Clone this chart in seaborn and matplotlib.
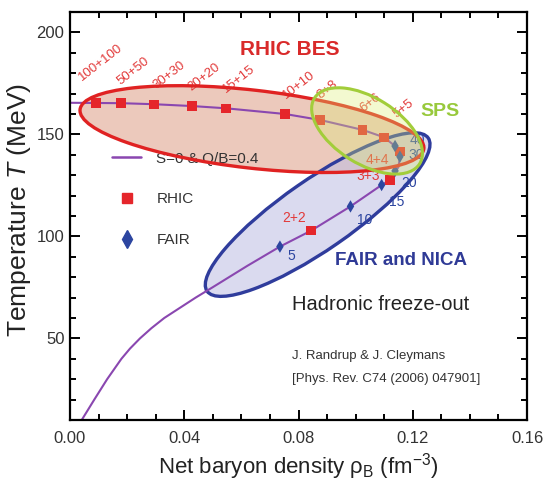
import matplotlib
matplotlib.use("Agg")
import matplotlib.pyplot as plt
import seaborn as sns
import pandas as pd
from matplotlib.patches import Ellipse
from matplotlib.lines import Line2D
from matplotlib.transforms import Affine2D
from matplotlib.ticker import MultipleLocator, FormatStrFormatter

# freeze-out curve (S=0 & Q/B=0.4)
curve_rho = [0.0, 0.0091, 0.0179, 0.0294, 0.0427, 0.0546, 0.0753, 0.0875, 0.1025,
             0.1099, 0.1138, 0.1156, 0.1150, 0.1120, 0.1091, 0.0982, 0.0844, 0.0735,
             0.0620, 0.0501, 0.0440, 0.0385, 0.0330, 0.0285, 0.0245, 0.0210,
             0.0180, 0.0130, 0.0085, 0.0041]
curve_T = [165.5, 165.4, 165.3, 164.8, 163.9, 162.8, 160.0, 157.1, 152.2,
           148.6, 144.3, 140.0, 134.0, 127.6, 125.2, 114.7, 102.8, 95.0,
           85.5, 75.2, 70.0, 65.0, 60.0, 55.0, 50.0, 45.0,
           40.0, 30.0, 20.0, 10.0]

# RHIC beam energy scan points
rhic_labels = ["100+100", "50+50", "30+30", "20+20", "15+15", "10+10",
               "8+8", "6+6", "5+5", "4+4", "3+3", "2+2"]
rhic_rho = [0.0091, 0.0179, 0.0294, 0.0427, 0.0546, 0.0753,
            0.0875, 0.1025, 0.1099, 0.1155, 0.1120, 0.0844]
rhic_T = [165.4, 165.4, 164.8, 163.9, 162.8, 160.0,
          157.1, 152.2, 148.6, 141.5, 127.6, 102.8]

# FAIR points
fair_labels = ["5", "10", "15", "20", "30", "40"]
fair_rho = [0.0735, 0.0982, 0.1091, 0.1138, 0.1155, 0.1138]
fair_T = [95.0, 114.7, 125.2, 132.1, 139.1, 144.3]

PURPLE = "#8a47b0"
RED = "#e5262b"
BLUE = "#2c45a0"

sns.set_style("ticks")
plt.rcParams["font.family"] = ["Liberation Sans", "DejaVu Sans"]
plt.rcParams["mathtext.fontset"] = "custom"
plt.rcParams["mathtext.rm"] = "Liberation Sans"
plt.rcParams["mathtext.it"] = "Liberation Sans:italic"

fig = plt.figure(figsize=(5.45, 4.88), dpi=100)
ax = fig.add_axes([70 / 545, 68 / 488, 457 / 545, 408 / 488])
ax.set_xlim(0, 0.16)
ax.set_ylim(10, 210)

# ellipses are drawn in pixel units so they keep their shape
px = Affine2D().scale(0.16 / 457, 200 / 408) + ax.transData


def blob(x, y, w, h, angle, **kw):
    e = Ellipse((x * 457 / 0.16, y * 408 / 200), w, h, angle=angle, transform=px, **kw)
    ax.add_patch(e)


# RHIC BES region (fill under, edge over the legend)
blob(0.0637, 152.6, 346, 78, -6.5, fc="#ecc9bc", ec="none", zorder=1)
blob(0.0637, 152.6, 346, 78, -6.5, fc="none", ec="#e02222", lw=2.4, zorder=6)
# FAIR and NICA region
blob(0.0867, 110.7, 269, 70, 34.7, fc=(0.74, 0.74, 0.89, 0.55), ec="#2f3c9c", lw=2.4, zorder=1.5)
# SPS region
blob(0.1040, 151.7, 124, 66, -32, fc=(0.86, 0.93, 0.45, 0.33), ec="#a2cd3a", lw=2.2, zorder=7)

curve = pd.DataFrame({"rho": curve_rho, "T": curve_T})
sns.lineplot(data=curve, x="rho", y="T", sort=False, estimator=None,
             color=PURPLE, lw=1.5, ax=ax, zorder=2)

sns.scatterplot(x=rhic_rho, y=rhic_T, marker="s", s=45, color=RED,
                edgecolor="none", ax=ax, zorder=3)
sns.scatterplot(x=fair_rho, y=fair_T, marker="d", s=40, color=BLUE,
                edgecolor="none", ax=ax, zorder=3)

# point labels (offsets in points)
rhic_off = [(-9, 14), (1, 11), (3, 9), (1, 9), (1, 9), (2, 9),
            (2, 13), (2, 11), (10, 12)]
for lab, x, y, off in zip(rhic_labels[:9], rhic_rho[:9], rhic_T[:9], rhic_off):
    ax.annotate(lab, (x, y), xytext=off, textcoords="offset points",
                rotation=38, rotation_mode="anchor", ha="left", va="bottom",
                fontsize=9.5, color="#e23a3a", zorder=4)
flat_off = [(-16, -6), (-16, 3), (-12, 9)]
for lab, x, y, off in zip(rhic_labels[9:], rhic_rho[9:], rhic_T[9:], flat_off):
    ax.annotate(lab, (x, y), xytext=off, textcoords="offset points",
                ha="center", va="center", fontsize=10, color="#e23a3a", zorder=4)
fair_off = [(8, -7), (10, -10), (11, -12), (10, -9), (12, 1), (16, 4)]
for lab, x, y, off in zip(fair_labels, fair_rho, fair_T, fair_off):
    ax.annotate(lab, (x, y), xytext=off, textcoords="offset points",
                ha="center", va="center", fontsize=10, color=BLUE, zorder=4)

# region names and notes
ax.text(0.372, 0.907, "RHIC BES", transform=ax.transAxes, fontsize=15,
        fontweight="bold", color="#d92a2a", va="center")
ax.text(0.766, 0.757, "SPS", transform=ax.transAxes, fontsize=14,
        fontweight="bold", color="#98c93c", va="center")
ax.text(0.580, 0.390, "FAIR and NICA", transform=ax.transAxes, fontsize=13.5,
        fontweight="bold", color="#2f3a96", va="center")
ax.text(0.486, 0.282, "Hadronic freeze-out", transform=ax.transAxes,
        fontsize=14.5, color="#222222", va="center")
ax.text(0.486, 0.157, "J. Randrup & J. Cleymans", transform=ax.transAxes,
        fontsize=9.5, color="#333333", va="center")
ax.text(0.486, 0.100, "[Phys. Rev. C74 (2006) 047901]", transform=ax.transAxes,
        fontsize=9.5, color="#333333", va="center")

# legend
handles = [Line2D([], [], color=PURPLE, lw=1.8),
           Line2D([], [], ls="none", marker="s", ms=7, color=RED),
           Line2D([], [], ls="none", marker="d", ms=9, color=BLUE)]
leg = ax.legend(handles, ["S=0 & Q/B=0.4", "RHIC", "FAIR"], loc="upper left",
                bbox_to_anchor=(0.092, 0.658), frameon=False, fontsize=11,
                handlelength=1.9, handletextpad=1.0, labelspacing=1.75,
                borderpad=0, borderaxespad=0)
leg.set_zorder(5)
for t in leg.get_texts():
    t.set_color("#333333")

# axes styling
ax.xaxis.set_major_locator(MultipleLocator(0.04))
ax.xaxis.set_minor_locator(MultipleLocator(0.01))
ax.xaxis.set_major_formatter(FormatStrFormatter("%.2f"))
ax.yaxis.set_major_locator(MultipleLocator(50))
ax.yaxis.set_minor_locator(MultipleLocator(10))
ax.tick_params(which="both", direction="in", top=True, right=True,
               width=1.4, colors="black", labelsize=12, labelcolor="#333333")
ax.tick_params(which="major", length=7)
ax.tick_params(which="minor", length=4)
ax.tick_params(axis="x", pad=8)
ax.tick_params(axis="y", pad=4)
for s in ax.spines.values():
    s.set_linewidth(1.6)
    s.set_color("black")

ax.set_xlabel("Net baryon density ρ$_{\\rm B}$ (fm$^{-3}$)", fontsize=16, color="#222222")
ax.set_ylabel("Temperature $T$ (MeV)", fontsize=19, color="#222222")
ax.xaxis.set_label_coords(0.5, -0.075)
ax.yaxis.set_label_coords(-0.08, 0.515)

fig.savefig("out.png", dpi=100)
